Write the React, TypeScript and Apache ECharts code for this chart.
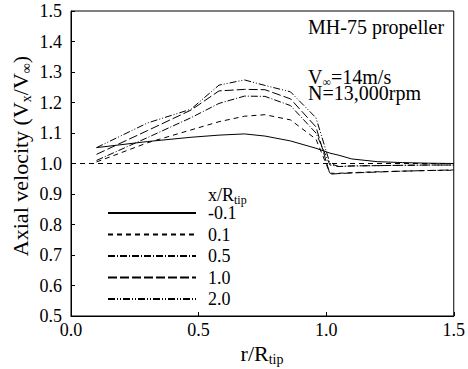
import React, { useEffect, useRef } from "react";
import * as echarts from "echarts";

const rValues = [0.1, 0.3, 0.47, 0.58, 0.68, 0.76, 0.86, 0.96, 1.015, 1.05, 1.1, 1.2, 1.3, 1.4, 1.5];
const seriesNames = ["-0.1", "0.1", "0.5", "1.0", "2.0"];
const vNeg01 = [1.052, 1.072, 1.086, 1.093, 1.097, 1.09, 1.074, 1.05, 1.034, 1.027, 1.015, 1.006, 1.003, 1.001, 1.0];
const v01 = [1.005, 1.068, 1.11, 1.137, 1.155, 1.16, 1.143, 1.08, 0.968, 0.968, 0.97, 0.973, 0.975, 0.977, 0.978];
const v05 = [1.01, 1.085, 1.15, 1.197, 1.221, 1.22, 1.19, 1.1, 0.995, 0.99, 0.992, 0.993, 0.994, 0.995, 0.995];
const v10 = [1.03, 1.108, 1.175, 1.238, 1.243, 1.242, 1.212, 1.12, 0.965, 0.967, 0.969, 0.972, 0.975, 0.977, 0.979];
const v20 = [1.052, 1.133, 1.178, 1.257, 1.274, 1.256, 1.235, 1.15, 1.0, 0.99, 0.992, 0.993, 0.994, 0.995, 0.995];
const refLine = 1.0;
const xTicks = { min: 0, max: 1.5, interval: 0.5 };
const yTicks = { min: 0.5, max: 1.5, interval: 0.1 };

const FONT = "'Liberation Serif', 'DejaVu Serif', serif";
const dashes: any[] = ["solid", [5, 4], [7, 2, 1, 2], [9, 3], [7, 2, 1, 2, 1, 2]];
const allValues = [vNeg01, v01, v05, v10, v20];

export default function App() {
  const ref = useRef<HTMLDivElement>(null);
  useEffect(() => {
    if (!ref.current) return;
    const chart = echarts.init(ref.current, null, { renderer: "svg" });
    const sub = { fontSize: 12, lineHeight: 12, padding: [10, 0, 0, 0], fontFamily: FONT, color: "#000" };
    const series: any[] = allValues.map((vals, i) => ({
      name: seriesNames[i],
      type: "line",
      symbol: "none",
      data: rValues.map((r, j) => [r, vals[j]]),
      lineStyle: { color: "#000", width: 1, type: dashes[i] },
      itemStyle: { color: "#000" },
      ...(i === 0
        ? {
            markLine: {
              silent: true,
              symbol: "none",
              label: { show: false },
              lineStyle: { color: "#000", width: 1, type: [5, 4] },
              data: [{ yAxis: refLine }],
            },
          }
        : {}),
    }));
    chart.setOption({
      animation: false,
      textStyle: { fontFamily: FONT },
      grid: { left: 71, right: 13, top: 11, bottom: 53, show: true, borderColor: "#000", borderWidth: 1 },
      xAxis: {
        type: "value",
        min: xTicks.min,
        max: xTicks.max,
        interval: xTicks.interval,
        axisLine: { lineStyle: { color: "#000", width: 1 } },
        axisTick: { inside: true, length: 4, lineStyle: { color: "#000" } },
        splitLine: { show: false },
        axisLabel: { formatter: (v: number) => v.toFixed(1), fontSize: 18, color: "#000", fontFamily: FONT, margin: 5 },
      },
      yAxis: {
        type: "value",
        min: yTicks.min,
        max: yTicks.max,
        interval: yTicks.interval,
        axisLine: { lineStyle: { color: "#000", width: 1 } },
        axisTick: { inside: true, length: 4, lineStyle: { color: "#000" } },
        splitLine: { show: false },
        axisLabel: { formatter: (v: number) => v.toFixed(1), fontSize: 18, color: "#000", fontFamily: FONT, margin: 9 },
      },
      legend: {
        orient: "vertical",
        left: 107,
        top: 204,
        padding: 0,
        itemWidth: 88,
        itemHeight: 14,
        itemGap: 3.5,
        data: seriesNames,
        itemStyle: { opacity: 0 },
        textStyle: { fontSize: 18, fontFamily: FONT, color: "#000", padding: [0, 0, 0, 7] },
      },
      graphic: [
        {
          type: "text",
          x: 308,
          y: 27,
          style: { text: "MH-75 propeller", fontSize: 20, fontFamily: FONT, fill: "#000", verticalAlign: "middle" },
        },
        {
          type: "text",
          x: 308,
          y: 77,
          style: {
            text: "{a|V}{s|∞}{a|=14m/s}",
            verticalAlign: "middle",
            rich: { a: { fontSize: 20, lineHeight: 20, fontFamily: FONT, color: "#000" }, s: sub },
          },
        },
        {
          type: "text",
          x: 308,
          y: 93,
          style: { text: "N=13,000rpm", fontSize: 20, fontFamily: FONT, fill: "#000", verticalAlign: "middle" },
        },
        {
          type: "text",
          x: 208,
          y: 195,
          style: {
            text: "{a|x/R}{s|tip}",
            verticalAlign: "middle",
            rich: { a: { fontSize: 18, lineHeight: 20, fontFamily: FONT, color: "#000" }, s: sub },
          },
        },
        {
          type: "text",
          x: 262,
          y: 353,
          style: {
            text: "{a|r/R}{s|tip}",
            align: "center",
            verticalAlign: "middle",
            rich: { a: { fontSize: 22, lineHeight: 22, fontFamily: FONT, color: "#000" }, s: { ...sub, fontSize: 14, lineHeight: 14, padding: [12, 0, 0, 0] } },
          },
        },
        {
          type: "text",
          x: 20,
          y: 156,
          rotation: Math.PI / 2,
          style: {
            text: "{a|Axial velocity (V}{s|x}{a|/V}{s|∞}{a|)}",
            align: "center",
            verticalAlign: "middle",
            rich: { a: { fontSize: 22, lineHeight: 22, fontFamily: FONT, color: "#000" }, s: { ...sub, fontSize: 14, lineHeight: 14, padding: [12, 0, 0, 0] } },
          },
        },
      ],
      series,
    });
    return () => chart.dispose();
  }, []);
  return <div ref={ref} style={{ width: 468, height: 369, position: "absolute", left: 0, top: 0 }} />;
}
